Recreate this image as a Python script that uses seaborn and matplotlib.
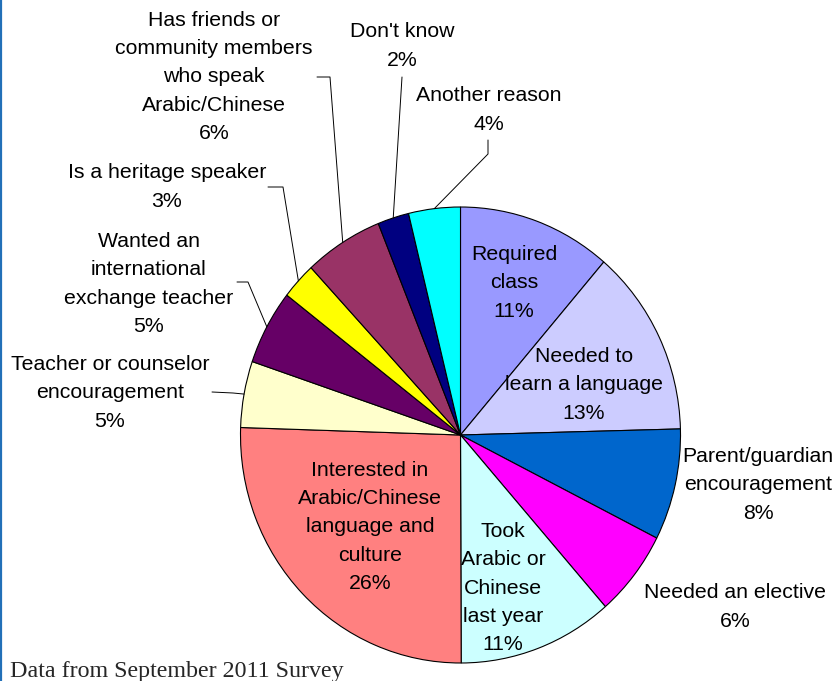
import numpy as np
import matplotlib
matplotlib.use('Agg')
import matplotlib.pyplot as plt
import seaborn as sns
from matplotlib.lines import Line2D

# reasons, clockwise from 12 o'clock
reasons = ['Required\nclass', 'Needed to\nlearn a language', 'Parent/guardian\nencouragement',
           'Needed an elective', 'Took\nArabic or\nChinese\nlast year',
           'Interested in\nArabic/Chinese\nlanguage and\nculture',
           'Teacher or counselor\nencouragement', 'Wanted an\ninternational\nexchange teacher',
           'Is a heritage speaker', 'Has friends or\ncommunity members\nwho speak\nArabic/Chinese',
           "Don't know", 'Another reason']
# share of students (%)
shares = [11.3, 13.3, 7.9, 6.1, 11.4, 25.6, 4.7, 5.3, 2.6, 5.8, 2.3, 3.8]
colors = ['#9999FF', '#CCCCFF', '#0066CC', '#FF00FF', '#CCFFFF', '#FF8080',
          '#FFFFCC', '#660066', '#FFFF00', '#993366', '#000080', '#00FFFF']

# label block centres in pixels (x from left, y from top)
label_pos = [(514, 283), (584, 385), (758, 485), (735, 607), (503, 588), (370, 527),
             (110, 393), (149, 284), (167, 187), (214, 77), (402, 46), (489, 110)]
# leader lines: label side points, pie end is taken from the wedge
leaders = {6: [(212, 392), (233, 393)], 7: [(237, 282), (248, 282)],
           8: [(268, 187), (283, 187)], 9: [(317, 77), (330, 77)],
           10: [(402, 77)], 11: [(488, 140), (488, 154)]}

W, H = 837, 681
sns.set_style('white')
plt.rcParams['font.family'] = ['Liberation Sans', 'DejaVu Sans']

fig = plt.figure(figsize=(W / 100, H / 100), dpi=100)
fig.patch.set_facecolor('white')

# pie is slightly taller than wide in the original
cx, cy, rx, ry = 460.5, 435, 220, 228
ax_pie = fig.add_axes([(cx - rx) / W, (H - cy - ry) / H, 2 * rx / W, 2 * ry / H])
pal = sns.color_palette(colors)
wedges, _ = ax_pie.pie(shares, colors=pal, startangle=90, counterclock=False, radius=1,
                       wedgeprops=dict(edgecolor='black', linewidth=0.8))
ax_pie.set_xlim(-1, 1)
ax_pie.set_ylim(-1, 1)
ax_pie.set_aspect('auto')
ax_pie.axis('off')

# overlay in pixel coordinates for labels and leader lines
ov = fig.add_axes([0, 0, 1, 1])
ov.set_xlim(0, W)
ov.set_ylim(H, 0)
ov.axis('off')
ov.patch.set_alpha(0)

to_px = ax_pie.transData + ov.transData.inverted()

for i, (name, s) in enumerate(zip(reasons, shares)):
    x, y = label_pos[i]
    ov.text(x, y, '{}\n{}%'.format(name, int(round(s))), ha='center', va='center',
            fontsize=15.3, linespacing=1.61, color='black')

for i, pts in leaders.items():
    w = wedges[i]
    mid = np.deg2rad((w.theta1 + w.theta2) / 2)
    ex, ey = to_px.transform((np.cos(mid), np.sin(mid)))
    xs = [p[0] for p in pts] + [ex]
    ys = [p[1] for p in pts] + [ey]
    ov.plot(xs, ys, color='black', lw=0.7)

fig.text(10 / W, 1 - 677 / H, 'Data from September 2011 Survey', ha='left', va='baseline',
         fontsize=17.3, family='Liberation Serif')

fig.add_artist(Line2D([1.2 / W, 1.2 / W], [0, 1], color='#2270b8', lw=1.6))

plt.savefig('out.png', dpi=100)
plt.close()
